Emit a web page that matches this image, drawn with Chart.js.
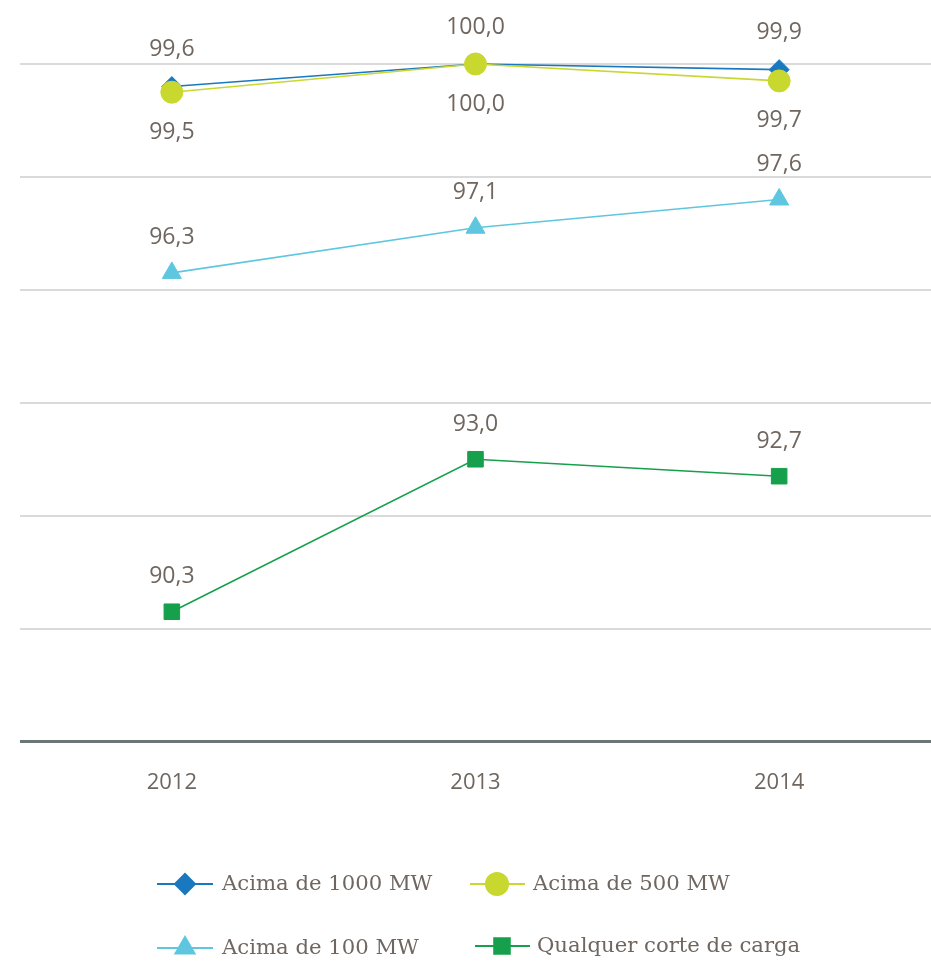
<!DOCTYPE html>
<html>
<head>
<meta charset="utf-8">
<script src="https://cdn.jsdelivr.net/npm/chart.js@4.4.1/dist/chart.umd.min.js"></script>
<style>
html,body{margin:0;padding:0;background:#fff;}
#wrap{width:931px;height:964px;position:relative;}
</style>
</head>
<body>
<div id="wrap"><canvas id="c" width="931" height="964"></canvas></div>
<script>
const categories = ['2012', '2013', '2014'];
const seriesNames = ['Acima de 1000 MW', 'Acima de 500 MW', 'Acima de 100 MW', 'Qualquer corte de carga'];
const acima1000 = [99.6, 100.0, 99.9];
const acima500 = [99.5, 100.0, 99.7];
const acima100 = [96.3, 97.1, 97.6];
const qualquer = [90.3, 93.0, 92.7];
const yTicks = [88, 90, 92, 94, 96, 98, 100];

const colors = ['#1a78bf', '#c8d82e', '#5ec7df', '#16a04c'];
const styles = ['rectRot', 'circle', 'triangle', 'rect'];
const radii = [10, 11, 11, 11];
const labelOffsets = [-37, 40, -35, -35];
const orders = [1, 0, 2, 3];
const allData = [acima1000, acima500, acima100, qualquer];
const textColor = '#6f665f';

const datasets = allData.map((d, i) => ({
  label: seriesNames[i],
  data: d,
  borderColor: colors[i],
  backgroundColor: colors[i],
  pointBackgroundColor: colors[i],
  pointBorderColor: colors[i],
  pointStyle: styles[i],
  pointRadius: radii[i],
  pointBorderWidth: 1,
  borderWidth: 1.6,
  tension: 0,
  order: orders[i]
}));

const fmt = v => v.toFixed(1).replace('.', ',');

const labelPlugin = {
  id: 'labels',
  afterDatasetsDraw(chart) {
    const ctx = chart.ctx;
    ctx.save();
    ctx.font = '23px "Open Sans"';
    ctx.fillStyle = textColor;
    ctx.textAlign = 'center';
    ctx.textBaseline = 'middle';
    chart.data.datasets.forEach((ds, i) => {
      const meta = chart.getDatasetMeta(i);
      meta.data.forEach((pt, j) => {
        ctx.fillText(fmt(ds.data[j]), pt.x, pt.y + labelOffsets[i]);
      });
    });
    ctx.restore();
  }
};

const legendPos = [
  {lx: 157, cx: 185, rx: 213, tx: 222, y: 884},
  {lx: 470, cx: 497, rx: 525, tx: 533, y: 884},
  {lx: 157, cx: 185, rx: 213, tx: 222, y: 948},
  {lx: 475, cx: 502, rx: 530, tx: 537, y: 946}
];

const legendPlugin = {
  id: 'customLegend',
  afterDraw(chart) {
    const ctx = chart.ctx;
    ctx.save();
    chart.data.datasets.forEach((ds, i) => {
      const p = legendPos[i];
      ctx.strokeStyle = ds.borderColor;
      ctx.lineWidth = 2;
      ctx.beginPath();
      ctx.moveTo(p.lx, p.y);
      ctx.lineTo(p.rx, p.y);
      ctx.stroke();
      ctx.fillStyle = ds.backgroundColor;
      ctx.strokeStyle = ds.borderColor;
      Chart.helpers.drawPoint(ctx, {pointStyle: ds.pointStyle, radius: ds.pointRadius, borderWidth: 1, rotation: 0}, p.cx, p.y);
      ctx.fillStyle = textColor;
      ctx.font = '21.2px "DejaVu Serif"';
      ctx.textAlign = 'left';
      ctx.textBaseline = 'middle';
      ctx.fillText(ds.label, p.tx, p.y);
    });
    ctx.restore();
  }
};

new Chart(document.getElementById('c'), {
  type: 'line',
  data: { labels: categories, datasets: datasets },
  options: {
    responsive: false,
    animation: false,
    layout: { autoPadding: false, padding: { left: 20, right: 0, top: 0, bottom: 140 } },
    plugins: { legend: { display: false }, tooltip: { enabled: false } },
    scales: {
      x: {
        offset: true,
        grid: { display: false, drawTicks: false },
        border: { display: false },
        ticks: { color: textColor, font: { family: 'Open Sans', size: 22 }, padding: 28 }
      },
      y: {
        min: 88,
        max: 101.133,
        afterBuildTicks(scale) { scale.ticks = yTicks.map(v => ({ value: v })); },
        grid: {
          drawTicks: false,
          color: c => c.tick && c.tick.value === 88 ? '#6d7676' : '#dadada',
          lineWidth: c => c.tick && c.tick.value === 88 ? 3 : 2
        },
        border: { display: false },
        ticks: { display: false }
      }
    }
  },
  plugins: [labelPlugin, legendPlugin]
});
</script>
</body>
</html>
